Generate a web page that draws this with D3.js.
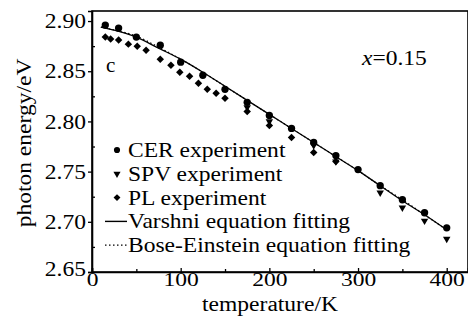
<!DOCTYPE html>
<html>
<head>
<meta charset="utf-8">
<script src="https://cdn.jsdelivr.net/npm/d3@7"></script>
<style>
  body { margin: 0; background: #fff; }
  svg { display: block; }
  text { font-family: "Liberation Serif", "Times New Roman", serif; fill: #000; }
</style>
</head>
<body>
<svg></svg>
<script>
// values
const cerT = [15, 30, 50, 77, 100, 125, 150, 175, 200, 225, 250, 275, 300, 325, 350, 375, 400];
const cerE = [2.896, 2.893, 2.884, 2.876, 2.859, 2.846, 2.832, 2.819, 2.806, 2.793, 2.779, 2.766, 2.752, 2.736, 2.722, 2.709, 2.694];

const spvT = [175, 200, 250, 275, 325, 350, 375, 400];
const spvE = [2.815, 2.801, 2.777, 2.761, 2.730, 2.715, 2.702, 2.684];

const plT = [15, 21, 30, 41, 51, 61, 77, 89, 99, 110, 120, 130, 140, 150, 175, 200, 225, 250, 275];
const plE = [2.884, 2.882, 2.881, 2.877, 2.875, 2.871, 2.862, 2.856, 2.849, 2.845, 2.838, 2.832, 2.828, 2.823, 2.810, 2.796, 2.784, 2.769, 2.760];

const fitT = [10, 25, 50, 75, 100, 125, 150, 175, 200, 225, 250, 275, 300, 325, 350, 375, 400];
const varshniE = [2.894, 2.891, 2.884, 2.873, 2.862, 2.849, 2.835, 2.821, 2.807, 2.793, 2.779, 2.765, 2.751, 2.736, 2.721, 2.707, 2.692];
const boseE = [2.894, 2.891, 2.885, 2.874, 2.862, 2.849, 2.835, 2.821, 2.807, 2.793, 2.779, 2.765, 2.751, 2.736, 2.722, 2.707, 2.692];

const xTicks = [0, 100, 200, 300, 400];
const xMinor = [50, 150, 250, 350];
const yTicks = [2.65, 2.70, 2.75, 2.80, 2.85, 2.90];
const yMinor = [2.675, 2.725, 2.775, 2.825, 2.875];

const legendLabels = ["CER experiment", "SPV experiment", "PL experiment",
                      "Varshni equation fitting", "Bose-Einstein equation fitting"];

const w = 468;
const h = 321;
const mLeft = 92, mRight = 468, mTop = 11, mBottom = 272;
const fs = 21;
const stretch = 1.12;

let svg = d3.select('svg').attr('width', w).attr('height', h);

let xScale = d3.scaleLinear().domain([0, 424]).range([mLeft, mRight]);
let yScale = d3.scaleLinear().domain([2.65, 2.91]).range([mBottom, mTop]);

// widen serif text a bit, the source picture is horizontally stretched
let widen = (sel, k = stretch) => {
    sel.each(function () {
        let len = this.getComputedTextLength();
        d3.select(this).attr('textLength', len * k).attr('lengthAdjust', 'spacingAndGlyphs');
    });
};

let zip = (xs, ys) => xs.map((t, i) => [t, ys[i]]);

// frame
svg.append('rect')
   .attr('x', mLeft).attr('y', mTop)
   .attr('width', mRight - mLeft).attr('height', mBottom - mTop)
   .attr('fill', 'none').attr('stroke', '#000').attr('stroke-width', 1.6);

// x axis
let xAxis = d3.axisBottom(xScale).tickValues(xTicks).tickSize(-4).tickPadding(3).tickFormat(d3.format('d'));
let gx = svg.append('g').attr('transform', `translate(0, ${mBottom})`).call(xAxis);
let xMinorAxis = d3.axisBottom(xScale).tickValues(xMinor).tickSize(-3).tickFormat('');
svg.append('g').attr('transform', `translate(0, ${mBottom})`).call(xMinorAxis).select('.domain').remove();

// y axis
let yAxis = d3.axisLeft(yScale).tickValues(yTicks).tickSize(4).tickPadding(2).tickFormat(d3.format('.2f'));
let gy = svg.append('g').attr('transform', `translate(${mLeft}, 0)`).call(yAxis);
let yMinorAxis = d3.axisLeft(yScale).tickValues(yMinor).tickSize(-3).tickFormat('');
svg.append('g').attr('transform', `translate(${mLeft}, 0)`).call(yMinorAxis).select('.domain').remove();

svg.selectAll('.domain').attr('stroke-width', 1.6);
svg.selectAll('.tick line').attr('stroke-width', 1.3);
svg.selectAll('.tick text').style('font-family', '"Liberation Serif", "Times New Roman", serif');
gy.selectAll('.tick text').style('font-size', fs + 'px').attr('dy', '0.32em');
gy.selectAll('.tick').filter((d) => d === 2.65).select('text').attr('dy', '0.15em');
gy.selectAll('.tick text').call(widen);
gx.selectAll('.tick text').style('font-size', '19px').attr('dy', '0.6em').call(widen, stretch * 21 / 19);

// fitted curves
let line = d3.line().x((d) => xScale(d[0])).y((d) => yScale(d[1])).curve(d3.curveMonotoneX);

svg.append('path')
   .datum(zip(fitT, boseE))
   .attr('d', line)
   .attr('fill', 'none').attr('stroke', '#000').attr('stroke-width', 1.2)
   .attr('stroke-dasharray', '1.5,2.5');

svg.append('path')
   .datum(zip(fitT, varshniE))
   .attr('d', line)
   .attr('fill', 'none').attr('stroke', '#000').attr('stroke-width', 1.3);

// markers
let circle = d3.symbol().type(d3.symbolCircle).size(42);
let diamond = d3.symbol().type(d3.symbolSquare).size(28);
let triangle = d3.symbol().type(d3.symbolTriangle).size(24);

svg.append('g').selectAll('path')
   .data(zip(plT, plE)).enter().append('path')
   .attr('d', diamond)
   .attr('transform', (d) => `translate(${xScale(d[0])}, ${yScale(d[1])}) rotate(45)`)
   .attr('fill', '#000');

svg.append('g').selectAll('path')
   .data(zip(spvT, spvE)).enter().append('path')
   .attr('d', triangle)
   .attr('transform', (d) => `translate(${xScale(d[0])}, ${yScale(d[1]) + 1}) rotate(180)`)
   .attr('fill', '#000');

svg.append('g').selectAll('path')
   .data(zip(cerT, cerE)).enter().append('path')
   .attr('d', circle)
   .attr('transform', (d) => `translate(${xScale(d[0])}, ${yScale(d[1])})`)
   .attr('fill', '#000');

// legend
let lg = svg.append('g').attr('transform', 'translate(117, 150)');
let rowH = 23.8;
lg.selectAll('text')
  .data(legendLabels).enter().append('text')
  .attr('x', 11).attr('y', (d, i) => i * rowH + 7)
  .style('font-size', fs + 'px')
  .text((d) => d)
  .call(widen);

lg.append('path').attr('d', d3.symbol().type(d3.symbolCircle).size(30)).attr('fill', '#000');
lg.append('path').attr('d', d3.symbol().type(d3.symbolTriangle).size(22))
  .attr('transform', `translate(0, ${rowH}) rotate(180)`).attr('fill', '#000');
lg.append('path').attr('d', d3.symbol().type(d3.symbolSquare).size(24))
  .attr('transform', `translate(0, ${2 * rowH}) rotate(45)`).attr('fill', '#000');
lg.append('line').attr('x1', -12).attr('x2', 10).attr('y1', 3 * rowH).attr('y2', 3 * rowH)
  .attr('stroke', '#000').attr('stroke-width', 1.4);
lg.append('line').attr('x1', -12).attr('x2', 10).attr('y1', 4 * rowH).attr('y2', 4 * rowH)
  .attr('stroke', '#000').attr('stroke-width', 1.2).attr('stroke-dasharray', '1.5,2.5');

// annotations
svg.append('text').attr('x', 106).attr('y', 72).style('font-size', fs + 'px').text('c');

let note = svg.append('text').attr('x', 362).attr('y', 65).style('font-size', fs + 'px');
note.append('tspan').style('font-style', 'italic').text('x');
note.append('tspan').text('=0.15');
note.call(widen);

// axis titles
svg.append('text')
   .attr('x', 270).attr('y', 311)
   .attr('text-anchor', 'middle')
   .style('font-size', '20px')
   .text('temperature/K')
   .call(widen, stretch * 21 / 20);

svg.append('text')
   .attr('transform', 'translate(31, 143) rotate(-90)')
   .attr('text-anchor', 'middle')
   .style('font-size', fs + 'px')
   .text('photon energy/eV')
   .call(widen);
</script>
</body>
</html>
